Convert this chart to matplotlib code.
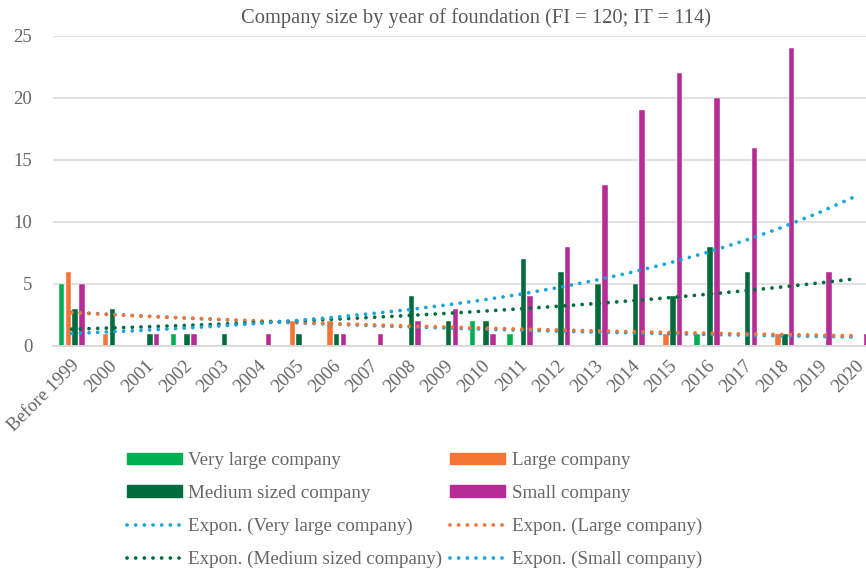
import numpy as np
import matplotlib

matplotlib.use("Agg")
import matplotlib.pyplot as plt
from matplotlib.patches import Patch
from matplotlib.lines import Line2D

# counts per year of foundation (0 = no company in that year / blank cell)
years = ["Before 1999", "2000", "2001", "2002", "2003", "2004", "2005", "2006",
         "2007", "2008", "2009", "2010", "2011", "2012", "2013", "2014", "2015",
         "2016", "2017", "2018", "2019", "2020"]
very_large = [5, 0, 0, 1, 0, 0, 0, 0, 0, 0, 0, 2, 1, 0, 0, 0, 0, 1, 0, 0, 0, 0]
large = [6, 1, 0, 0, 0, 0, 2, 2, 0, 0, 0, 0, 0, 0, 0, 0, 1, 0, 0, 1, 0, 0]
medium = [3, 3, 1, 1, 1, 0, 1, 1, 0, 4, 2, 2, 7, 6, 5, 5, 4, 8, 6, 1, 0, 0]
small = [5, 0, 1, 1, 0, 1, 0, 1, 1, 2, 3, 1, 4, 8, 13, 19, 22, 20, 16, 24, 6, 1]

C_VL = "#00B050"
C_L = "#F47434"
C_M = "#006B3C"
C_S = "#B52D94"
C_TREND_BLUE = "#18A4DE"
TEXT = "#666666"
GRID = "#D9D9D9"

plt.rcParams["font.family"] = ["Liberation Serif", "DejaVu Serif"]


def expon_fit(values):
    # Excel-style exponential trendline: fit ln(y) on x = 1..n, blanks ignored
    x = np.arange(1, len(values) + 1)
    y = np.array(values, dtype=float)
    m = y > 0
    b, a = np.polyfit(x[m], np.log(y[m]), 1)
    return np.exp(a + b * x)


def main():
    fig = plt.figure(figsize=(8.66, 5.72), dpi=100)
    ax = fig.add_axes([53 / 866, 1 - 346 / 572, 822 / 866, 310 / 572])

    x = np.arange(len(years))
    pitch = 0.18
    width = 0.15
    series = [
        ("Very large company", very_large, C_VL),
        ("Large company", large, C_L),
        ("Medium sized company", medium, C_M),
        ("Small company", small, C_S),
    ]
    for i, (label, vals, color) in enumerate(series):
        vals = np.array(vals, dtype=float)
        keep = vals > 0
        ax.bar(x[keep] + (i - 1.5) * pitch, vals[keep], width=width, color=color,
               edgecolor="white", linewidth=0.3, zorder=2)

    dots = (0, (0.01, 2.3))
    trend_colors = [C_TREND_BLUE, C_L, C_M, C_TREND_BLUE]
    for (label, vals, _), tc in zip(series, trend_colors):
        ax.plot(x, expon_fit(vals), color=tc, linewidth=2.7, linestyle=dots,
                dash_capstyle="round", zorder=3)

    ax.set_xlim(-0.5, len(years) - 0.5)
    ax.set_ylim(0, 25)
    ax.set_yticks([0, 5, 10, 15, 20, 25])
    ax.grid(axis="y", color=GRID, linewidth=1.1, zorder=0)
    ax.set_axisbelow(True)
    for side in ["top", "right", "left"]:
        ax.spines[side].set_visible(False)
    ax.spines["bottom"].set_color(GRID)
    ax.spines["bottom"].set_linewidth(1.3)
    ax.tick_params(axis="both", length=0, colors=TEXT, labelsize=13.5)
    ax.tick_params(axis="y", pad=15)
    ax.set_xticks(x - 0.02)
    ax.set_xticklabels(years, rotation=45, ha="right", va="top",
                       rotation_mode="anchor", fontsize=13.5)
    ax.tick_params(axis="x", pad=8)

    fig.text(476 / 866, 1 - 18 / 572, "Company size by year of foundation (FI = 120; IT = 114)",
             ha="center", va="center", fontsize=14.8, color="#595959")

    handles = [
        Patch(color=C_VL, label="Very large company"),
        Patch(color=C_M, label="Medium sized company"),
        Line2D([], [], color=C_TREND_BLUE, lw=2.7, ls=dots, dash_capstyle="round",
               label="Expon. (Very large company)"),
        Line2D([], [], color=C_M, lw=2.7, ls=dots, dash_capstyle="round",
               label="Expon. (Medium sized company)"),
        Patch(color=C_L, label="Large company"),
        Patch(color=C_S, label="Small company"),
        Line2D([], [], color=C_L, lw=2.7, ls=dots, dash_capstyle="round",
               label="Expon. (Large company)"),
        Line2D([], [], color=C_TREND_BLUE, lw=2.7, ls=dots, dash_capstyle="round",
               label="Expon. (Small company)"),
    ]
    leg = fig.legend(handles=handles, ncol=2, loc="upper left",
                     bbox_to_anchor=(127 / 866, 1 - 452 / 572), frameon=False,
                     fontsize=13.7, handlelength=2.9, handleheight=0.53,
                     handletextpad=0.33, labelspacing=0.83, columnspacing=0.4,
                     borderpad=0, borderaxespad=0)
    for t in leg.get_texts():
        t.set_color(TEXT)

    fig.savefig("out.png", dpi=100)
    plt.close(fig)


if __name__ == "__main__":
    main()
